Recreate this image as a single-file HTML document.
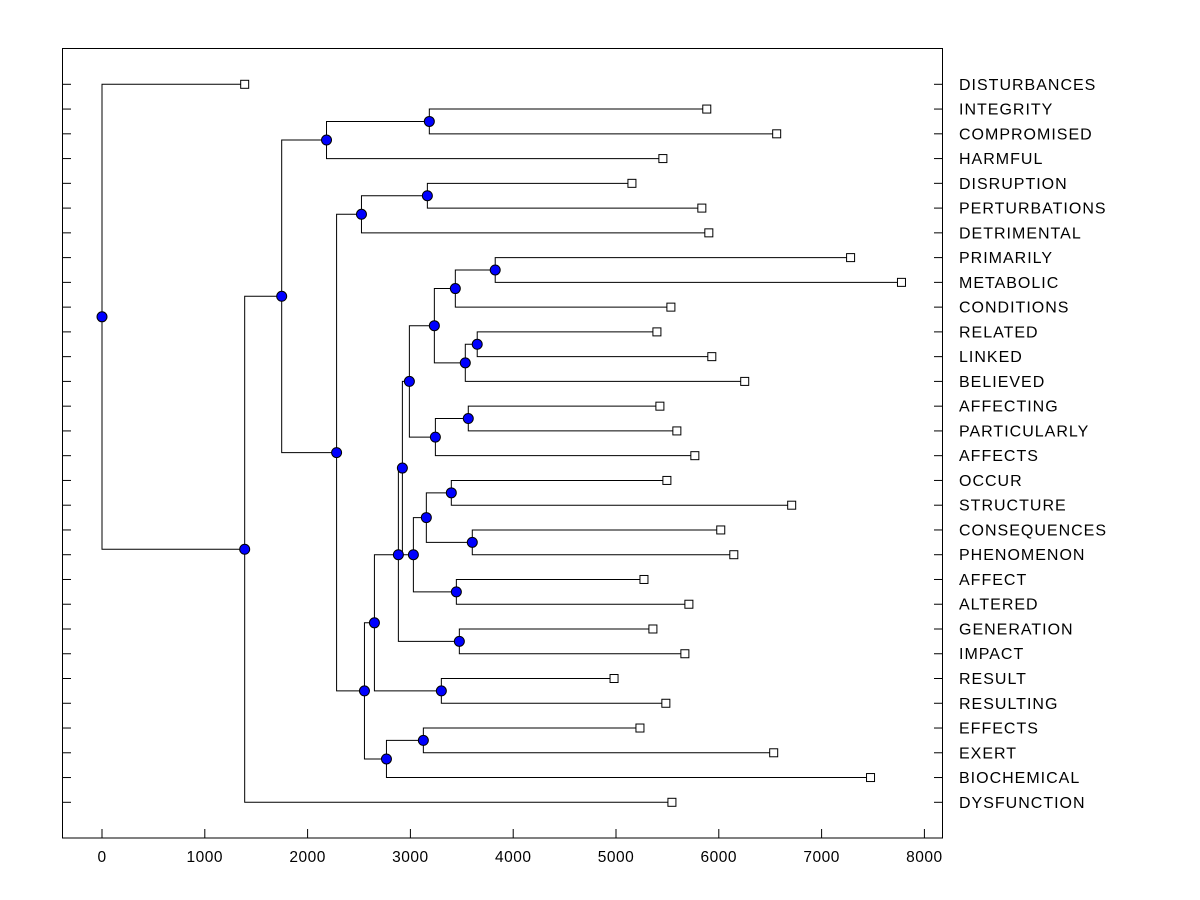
<!DOCTYPE html>
<html><head><meta charset="utf-8"><style>
html,body{margin:0;padding:0;background:#fff;}
svg{display:block;font-family:"Liberation Sans",Arial,sans-serif;}
</style></head><body>
<svg id="chart" width="1200" height="900" viewBox="0 0 1200 900">
<rect x="62.5" y="48.5" width="880" height="789.5" fill="none" stroke="#000" stroke-width="1"/>
<g id="axes"></g><g id="links"></g><g id="marks"></g><g id="labels"></g>
</svg>
<script>
const leafNames = ["DISTURBANCES","INTEGRITY","COMPROMISED","HARMFUL","DISRUPTION","PERTURBATIONS","DETRIMENTAL","PRIMARILY","METABOLIC","CONDITIONS","RELATED","LINKED","BELIEVED","AFFECTING","PARTICULARLY","AFFECTS","OCCUR","STRUCTURE","CONSEQUENCES","PHENOMENON","AFFECT","ALTERED","GENERATION","IMPACT","RESULT","RESULTING","EFFECTS","EXERT","BIOCHEMICAL","DYSFUNCTION"];
const leafValues = [1388,5883,6563,5456,5155,5835,5903,7282,7777,5534,5398,5932,6252,5427,5592,5767,5495,6709,6019,6146,5272,5709,5359,5670,4981,5485,5233,6534,7476,5544];
const nodeIds = ["E","C","H","F","X","V","Y","W","T","Z","U","P","AA","AB","R","S","Q","N","O","L","M","I","K","J","G","D","B","A","root"];
const nodeHeights = [3184,2184,3165,2524,3825,3437,3650,3534,3233,3563,3243,2990,3398,3602,3155,3447,3029,2922,3476,2883,3301,2650,3126,2767,2553,2282,1748,1388,0];
const nodeLeft = ["INTEGRITY","E","DISRUPTION","H","PRIMARILY","X","RELATED","Y","V","AFFECTING","Z","T","OCCUR","CONSEQUENCES","AA","AFFECT","R","P","GENERATION","N","RESULT","L","EFFECTS","K","I","F","C","B","DISTURBANCES"];
const nodeRight = ["COMPROMISED","HARMFUL","PERTURBATIONS","DETRIMENTAL","METABOLIC","CONDITIONS","LINKED","BELIEVED","W","PARTICULARLY","AFFECTS","U","STRUCTURE","PHENOMENON","AB","ALTERED","S","Q","IMPACT","O","RESULTING","M","EXERT","BIOCHEMICAL","J","G","D","DYSFUNCTION","A"];
const xTicks = [0,1000,2000,3000,4000,5000,6000,7000,8000];

const NS="http://www.w3.org/2000/svg";
const xs = v => 102 + v*0.1028;
const ys = i => 84.3 + i*(802.3-84.3)/29;
function mk(tag, attrs, parent){const e=document.createElementNS(NS,tag);for(const k in attrs)e.setAttribute(k,attrs[k]);document.getElementById(parent).appendChild(e);return e;}

const pos = {};
leafNames.forEach((n,i)=>{pos[n]={x:xs(leafValues[i]),y:ys(i)};});
nodeIds.forEach((id,i)=>{
  const a=pos[nodeLeft[i]], b=pos[nodeRight[i]];
  const x=xs(nodeHeights[i]);
  pos[id]={x:x,y:(a.y+b.y)/2};
  const p=mk("path",{d:`M${a.x},${a.y}H${x}V${b.y}H${b.x}`,fill:"none",stroke:"#000","stroke-width":1},"links");
  
  
});
xTicks.forEach(t=>{
  const x=xs(t);
  const l=mk("line",{x1:x,x2:x,y1:829,y2:838,stroke:"#000"},"axes");
  
  
  const tx=mk("text",{x:x,y:862,"text-anchor":"middle","font-size":"15.5","letter-spacing":"0.5"},"axes");
  tx.textContent=t;
  
  
});
leafNames.forEach((n,i)=>{
  const y=ys(i);
  const l1=mk("line",{x1:62,x2:71,y1:y,y2:y,stroke:"#000"},"axes");
  
  
  const l2=mk("line",{x1:934,x2:943,y1:y,y2:y,stroke:"#000"},"axes");
  
  
  const t=mk("text",{x:959,y:y+5.5,"font-size":"16","letter-spacing":"1"},"labels");
  t.textContent=n;
  
  
  const r=mk("rect",{x:pos[n].x-4,y:y-4,width:8,height:8,fill:"#fff",stroke:"#000"},"marks");
  
  
});
nodeIds.forEach(id=>{
  const c=mk("circle",{cx:pos[id].x,cy:pos[id].y,r:5,fill:"#0000ff",stroke:"#000","stroke-width":1},"marks");
  
  
});
</script>
</body></html>
